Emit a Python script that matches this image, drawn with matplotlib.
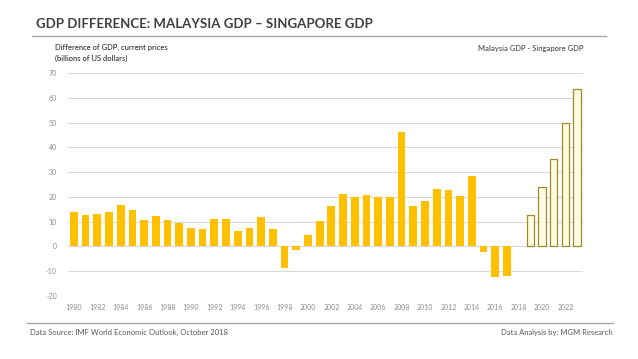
import matplotlib
matplotlib.use("Agg")
import matplotlib.pyplot as plt
from matplotlib.lines import Line2D

plt.rcParams['font.family'] = ['Lato', 'DejaVu Sans']

years = list(range(1980, 2024))
values = [14.0, 12.5, 12.9, 14.0, 16.8, 14.9, 10.8, 12.2, 10.5, 9.6,
          7.3, 7.0, 11.2, 11.2, 6.1, 7.4, 11.7, 7.1, -8.6, -1.5,
          4.7, 10.1, 16.3, 21.0, 19.8, 20.6, 20.1, 19.8, 46.3, 16.3,
          18.3, 23.0, 22.7, 20.3, 28.4, -2.4, -12.4, -11.9, 0.3, 12.8,
          24.1, 35.4, 49.7, 63.7]
forecast_start = 2019
yticks = [-20, -10, 0, 10, 20, 30, 40, 50, 60, 70]
title = "GDP DIFFERENCE: MALAYSIA GDP \u2013 SINGAPORE GDP"
ylabel = "Difference of GDP, current prices\n(billions of US dollars)"
series_name = "Malaysia GDP - Singapore GDP"
source = "Data Source: IMF World Economic Outlook, October 2018"
credit = "Data Analysis by: MGM Research"

fig = plt.figure(figsize=(6.38, 3.59), dpi=100)
ax = fig.add_axes([68/638, 63/359, 515/638, 223/359])

x = list(range(len(years)))
for xi, yr, v in zip(x, years, values):
    if yr >= forecast_start:
        ax.bar(xi, v, width=0.64, color='#FFFBE0', edgecolor='#A08A2E', linewidth=0.9, zorder=3)
    else:
        ax.bar(xi, v, width=0.66, color='#FFC000', edgecolor='none', zorder=3)

ax.set_xlim(-0.5, len(years) - 0.5)
ax.set_ylim(-20, 70)
ax.set_yticks(yticks)
ax.set_yticklabels([str(t) for t in yticks])
ax.set_xticks(x[::2])
ax.set_xticklabels([str(y) for y in years[::2]])
ax.grid(axis='y', color='#D9D9D9', linewidth=0.8, zorder=0)
ax.axhline(0, color='#D0D0D0', linewidth=0.8, zorder=1)
for s in ax.spines.values():
    s.set_visible(False)
ax.tick_params(axis='both', length=0, labelsize=5, colors='#8C8C8C')
ax.tick_params(axis='y', pad=8)
ax.tick_params(axis='x', pad=6)

fig.text(36/638, 1 - 24/359, title, fontsize=9.5, fontweight='bold', color='#404040', va='center', ha='left')
fig.add_artist(Line2D([32/638, 606/638], [1 - 36/359, 1 - 36/359], color='#A6A6A6', linewidth=1.0))
fig.text(55/638, 1 - 53/359, ylabel, fontsize=5.5, fontweight='semibold', color='#404040', va='center', ha='left', linespacing=1.5)
fig.text(583/638, 1 - 48/359, series_name, fontsize=5.5, fontweight='semibold', color='#595959', va='center', ha='right')
fig.add_artist(Line2D([27/638, 613/638], [1 - 323/359, 1 - 323/359], color='#A6A6A6', linewidth=1.0))
fig.text(30/638, 1 - 332/359, source, fontsize=5.5, color='#595959', va='center', ha='left')
fig.text(613/638, 1 - 332/359, credit, fontsize=5.5, color='#595959', va='center', ha='right')

fig.savefig("out.png", dpi=100, facecolor='white')
